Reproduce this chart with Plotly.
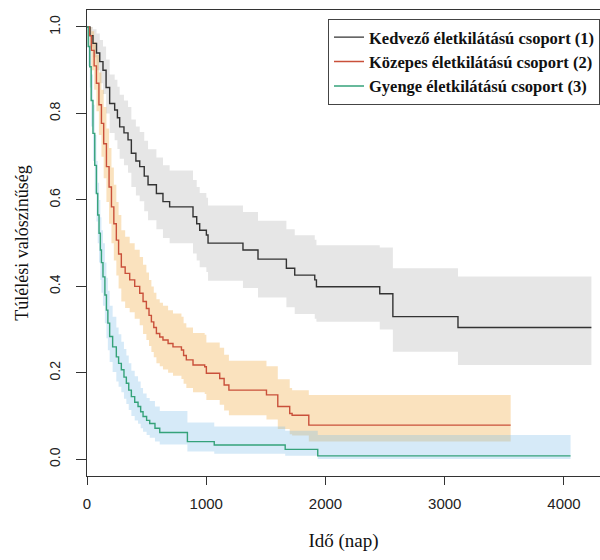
import plotly.graph_objects as go

# ---------------- data ----------------
# Group 1: Kedvező életkilátású csoport (1)
time1 = [0, 25, 50, 80, 107, 134, 160, 190, 232, 255, 274, 310, 344, 372, 410, 442, 480, 512,
         582, 637, 693, 889, 920, 945, 1001, 1015, 1308, 1434, 1672, 1742, 1910, 1924, 2455,
         2565, 3111]
surv1 = [1.0, 0.98, 0.962, 0.94, 0.92, 0.90, 0.86, 0.823, 0.808, 0.79, 0.769, 0.755, 0.739,
         0.708, 0.69, 0.677, 0.655, 0.635, 0.615, 0.596, 0.584, 0.561, 0.545, 0.53, 0.519, 0.5,
         0.484, 0.463, 0.442, 0.426, 0.415, 0.399, 0.383, 0.33, 0.305]
upper1 = [1.0, 1.0, 0.995, 0.985, 0.97, 0.955, 0.925, 0.89, 0.878, 0.862, 0.843, 0.83, 0.815,
          0.786, 0.77, 0.757, 0.737, 0.717, 0.698, 0.68, 0.668, 0.646, 0.63, 0.616, 0.605, 0.587,
          0.572, 0.552, 0.532, 0.518, 0.508, 0.495, 0.49, 0.442, 0.423]
lower1 = [1.0, 0.955, 0.93, 0.90, 0.87, 0.845, 0.80, 0.755, 0.738, 0.718, 0.695, 0.68, 0.663,
          0.63, 0.61, 0.597, 0.574, 0.553, 0.532, 0.512, 0.50, 0.476, 0.46, 0.444, 0.433, 0.413,
          0.396, 0.374, 0.352, 0.336, 0.325, 0.318, 0.30, 0.249, 0.218]
end1 = 4230

# Group 2: Közepes életkilátású csoport (2)
time2 = [0, 20, 37, 60, 79, 100, 121, 140, 163, 185, 205, 225, 246, 265, 288, 320, 358, 400,
         442, 470, 498, 520, 540, 560, 582, 610, 637, 680, 721, 792, 810, 833, 889, 987, 1001,
         1113, 1150, 1190, 1505, 1600, 1700, 1720, 1860]
surv2 = [1.0, 0.98, 0.946, 0.91, 0.87, 0.82, 0.777, 0.73, 0.677, 0.63, 0.584, 0.545, 0.507,
         0.475, 0.445, 0.43, 0.415, 0.40, 0.384, 0.365, 0.349, 0.333, 0.318, 0.305, 0.291, 0.283,
         0.276, 0.268, 0.26, 0.253, 0.24, 0.23, 0.218, 0.214, 0.199, 0.187, 0.172, 0.16, 0.149,
         0.122, 0.106, 0.102, 0.079]
upper2 = [1.0, 1.0, 0.99, 0.965, 0.935, 0.895, 0.855, 0.815, 0.765, 0.72, 0.675, 0.635, 0.595,
          0.565, 0.53, 0.515, 0.50, 0.485, 0.468, 0.45, 0.432, 0.415, 0.40, 0.385, 0.37, 0.362,
          0.355, 0.345, 0.337, 0.33, 0.315, 0.305, 0.292, 0.288, 0.27, 0.258, 0.242, 0.228,
          0.215, 0.185, 0.165, 0.16, 0.149]
lower2 = [1.0, 0.95, 0.90, 0.855, 0.805, 0.75, 0.70, 0.65, 0.595, 0.545, 0.50, 0.46, 0.425,
          0.395, 0.365, 0.35, 0.34, 0.325, 0.31, 0.29, 0.276, 0.262, 0.248, 0.236, 0.222, 0.215,
          0.208, 0.2, 0.193, 0.186, 0.175, 0.165, 0.155, 0.151, 0.137, 0.126, 0.113, 0.102,
          0.092, 0.07, 0.058, 0.055, 0.041]
end2 = 3553

# Group 3: Gyenge életkilátású csoport (3)
time3 = [0, 10, 23, 35, 50, 65, 79, 90, 101, 112, 121, 134, 150, 163, 175, 190, 215, 246, 265,
         288, 310, 330, 350, 372, 400, 428, 450, 470, 500, 526, 570, 610, 842, 1067, 1662, 1935]
surv3 = [1.0, 0.955, 0.908, 0.83, 0.754, 0.68, 0.615, 0.565, 0.523, 0.484, 0.455, 0.422, 0.38,
         0.345, 0.315, 0.284, 0.26, 0.237, 0.222, 0.207, 0.19, 0.176, 0.16, 0.145, 0.132, 0.122,
         0.11, 0.099, 0.09, 0.083, 0.072, 0.062, 0.041, 0.033, 0.023, 0.008]
upper3 = [1.0, 0.99, 0.96, 0.89, 0.82, 0.75, 0.69, 0.64, 0.60, 0.56, 0.53, 0.50, 0.455, 0.42,
          0.39, 0.355, 0.33, 0.305, 0.289, 0.272, 0.255, 0.24, 0.222, 0.205, 0.192, 0.18, 0.165,
          0.152, 0.142, 0.135, 0.122, 0.112, 0.085, 0.076, 0.066, 0.056]
lower3 = [1.0, 0.91, 0.86, 0.77, 0.69, 0.615, 0.55, 0.50, 0.455, 0.415, 0.385, 0.355, 0.315,
          0.28, 0.252, 0.225, 0.202, 0.18, 0.168, 0.155, 0.14, 0.128, 0.114, 0.10, 0.09, 0.082,
          0.072, 0.064, 0.056, 0.05, 0.041, 0.034, 0.018, 0.013, 0.008, 0.001]
end3 = 4055

names = ["Kedvező életkilátású csoport (1)",
         "Közepes életkilátású csoport (2)",
         "Gyenge életkilátású csoport (3)"]

x_ticks = [0, 1000, 2000, 3000, 4000]
y_ticks = [0.0, 0.2, 0.4, 0.6, 0.8, 1.0]

# ---------------- styling ----------------
band_colors = ["rgba(128,128,128,0.20)", "rgba(238,152,22,0.28)", "rgba(118,185,232,0.30)"]
line_colors = ["#333333", "#c9503a", "#35a27a"]

groups = [
    (time1, surv1, upper1, lower1, end1),
    (time2, surv2, upper2, lower2, end2),
    (time3, surv3, upper3, lower3, end3),
]

fig = go.Figure()

for (t, s, up, lo, tend), fc in zip(groups, band_colors):
    xs = list(t) + [tend]
    fig.add_trace(go.Scatter(x=xs, y=list(lo) + [lo[-1]], mode="lines",
                             line=dict(width=0, shape="hv"), showlegend=False,
                             hoverinfo="skip"))
    fig.add_trace(go.Scatter(x=xs, y=list(up) + [up[-1]], mode="lines",
                             line=dict(width=0, shape="hv"), fill="tonexty",
                             fillcolor=fc, showlegend=False, hoverinfo="skip"))

for (t, s, up, lo, tend), lc, nm in zip(groups, line_colors, names):
    xs = list(t) + [tend]
    fig.add_trace(go.Scatter(x=xs, y=list(s) + [s[-1]], mode="lines",
                             line=dict(width=1.4, color=lc, shape="hv"), name=nm))

fig.update_layout(
    width=600, height=560,
    margin=dict(l=87, r=0, t=10, b=84),
    paper_bgcolor="white", plot_bgcolor="white",
    font=dict(family="Liberation Sans", color="#222"),
    showlegend=True,
    legend=dict(
        x=1, xanchor="right", y=0.981, yanchor="top",
        traceorder="normal",
        bgcolor="white", bordercolor="#444", borderwidth=1,
        font=dict(family="Liberation Serif", size=16.5, color="#111", weight="bold"),
        itemwidth=30, tracegroupgap=0,
    ),
    xaxis=dict(
        range=[0, 4302], tickvals=x_ticks, ticktext=[str(v) for v in x_ticks],
        showgrid=False, zeroline=False, showline=True, linecolor="#333", linewidth=1,
        mirror=True, ticks="outside", ticklen=8, tickcolor="#333",
        tickfont=dict(size=15, family="Liberation Sans", color="#222"),
        ticklabelstandoff=6,
        title=dict(text="Idő (nap)", font=dict(family="Liberation Serif", size=19, color="#111"),
                   standoff=22),
    ),
    yaxis=dict(
        range=[-0.0386, 1.0393], tickvals=y_ticks, ticktext=[f"{v:.1f}" for v in y_ticks],
        showgrid=False, zeroline=False, showline=True, linecolor="#333", linewidth=1,
        mirror=False, ticks="outside", ticklen=10, tickcolor="#333", tickangle=-90,
        tickfont=dict(size=14, family="Liberation Sans", color="#222"),
        ticklabelstandoff=10,
        title=dict(text="Túlélési valószínűség",
                   font=dict(family="Liberation Serif", size=18, color="#111"), standoff=14),
    ),
)

fig.write_html("out.html")
